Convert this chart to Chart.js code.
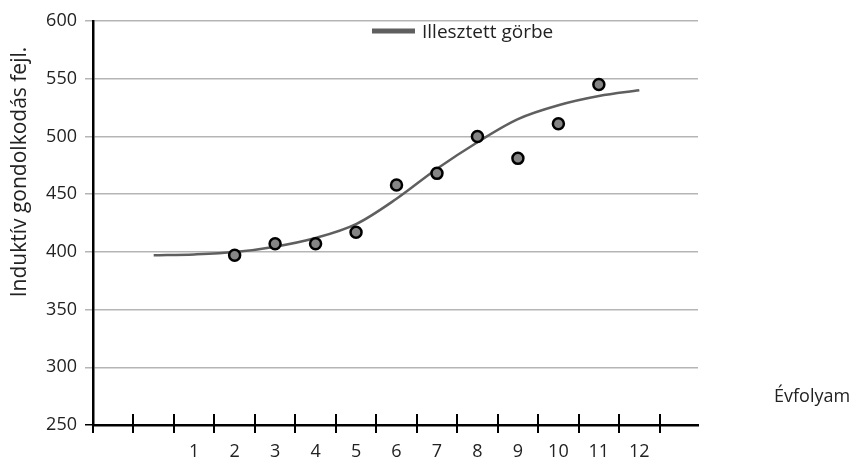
<!DOCTYPE html>
<html>
<head>
<meta charset="utf-8">
<script src="https://cdn.jsdelivr.net/npm/chart.js@4.4.1/dist/chart.umd.min.js"></script>
<style>
html, body { margin: 0; padding: 0; background: #fff; }
#wrap { width: 853px; height: 459px; }
</style>
</head>
<body>
<div id="wrap"><canvas id="growth"></canvas></div>
<script>
// fitted curve, grade 0 to 12
var curveGrades = [0, 1, 2, 3, 4, 5, 6, 7, 8, 9, 10, 11, 12];
var curveValues = [397, 397.8, 399.8, 404.5, 412, 424, 446, 472, 495, 515, 527, 535, 540];
// measured means, grade 2 to 11
var pointGrades = [2, 3, 4, 5, 6, 7, 8, 9, 10, 11];
var pointValues = [397, 407, 407, 417, 458, 468, 500, 481, 511, 545];
var gradeLabels = [1, 2, 3, 4, 5, 6, 7, 8, 9, 10, 11, 12];
var yTicks = [250, 300, 350, 400, 450, 500, 550, 600];

var curveLabel = "Illesztett görbe";
var xTitle = "Évfolyam";
var yTitle = "Induktív gondolkodás fejl.";

var font = "Open Sans";
var textColor = "#222";

function pairs(xs, ys) {
    var out = [];
    for (var i = 0; i < xs.length; i++) out.push({x: xs[i], y: ys[i]});
    return out;
}

// tick marks crossing the x axis, the two axis titles and the legend
var extras = {
    id: "extras",
    afterDraw: function(chart) {
        var ctx = chart.ctx;
        var xs = chart.scales.x;
        var area = chart.chartArea;
        var y0 = area.bottom;
        ctx.save();
        ctx.strokeStyle = "#000";
        ctx.lineWidth = 2;
        for (var v = -1.5; v <= 13; v += 1) {
            var px = Math.round(xs.getPixelForValue(v));
            ctx.beginPath();
            ctx.moveTo(px, y0 - 11);
            ctx.lineTo(px, y0 + 8);
            ctx.stroke();
        }
        ctx.fillStyle = textColor;
        ctx.textBaseline = "middle";
        ctx.textAlign = "left";
        ctx.font = "18px '" + font + "'";
        ctx.fillText(xTitle, area.right + 76, area.bottom - 28);

        // y title, rotated
        ctx.save();
        ctx.translate(20, 172);
        ctx.rotate(-Math.PI / 2);
        ctx.textAlign = "center";
        ctx.font = "21px '" + font + "'";
        ctx.fillText(yTitle, 0, 0);
        ctx.restore();

        // legend
        var lx = area.left + 279;
        var ly = area.top + 10;
        ctx.strokeStyle = "#5f5f5f";
        ctx.lineWidth = 5;
        ctx.beginPath();
        ctx.moveTo(lx, ly);
        ctx.lineTo(lx + 43, ly);
        ctx.stroke();
        ctx.font = "19px '" + font + "'";
        ctx.fillText(chart.data.datasets[0].label, lx + 50, ly + 2);
        ctx.restore();
    }
};

new Chart(document.getElementById("growth"), {
    type: "line",
    data: {
        datasets: [{
            label: curveLabel,
            data: pairs(curveGrades, curveValues),
            borderColor: "#5f5f5f",
            borderWidth: 2.5,
            pointRadius: 0,
            cubicInterpolationMode: "monotone",
            fill: false,
            order: 2
        }, {
            label: "Mért",
            data: pairs(pointGrades, pointValues),
            showLine: false,
            pointRadius: 5.5,
            pointBackgroundColor: "#858585",
            pointBorderColor: "#000",
            pointBorderWidth: 2.5,
            order: 1
        }]
    },
    options: {
        responsive: true,
        maintainAspectRatio: false,
        animation: false,
        layout: { padding: { top: 21, right: 155, left: 0, bottom: 0 } },
        plugins: {
            legend: { display: false },
            tooltip: { enabled: false }
        },
        scales: {
            x: {
                type: "linear",
                min: -1.5,
                max: 13.45,
                afterBuildTicks: function(scale) {
                    scale.ticks = gradeLabels.map(function(g) { return {value: g}; });
                },
                afterFit: function(scale) { scale.height = 34; },
                grid: { display: false },
                border: { display: true, color: "#000", width: 2.5 },
                ticks: {
                    autoSkip: false,
                    maxRotation: 0,
                    padding: 8,
                    color: textColor,
                    font: { family: font, size: 18 },
                    callback: function(v) { return String(v); }
                }
            },
            y: {
                min: 250,
                max: 600,
                afterBuildTicks: function(scale) {
                    scale.ticks = yTicks.map(function(t) { return {value: t}; });
                },
                afterFit: function(scale) { scale.width = 93; },
                grid: {
                    color: function(c) { return c.tick && c.tick.value === 250 ? "#000" : "#b5b5b5"; },
                    lineWidth: 1.5,
                    tickLength: 8
                },
                border: { display: true, color: "#000", width: 2.5 },
                ticks: {
                    padding: 8,
                    color: textColor,
                    font: { family: font, size: 18 }
                }
            }
        }
    },
    plugins: [extras]
});
</script>
</body>
</html>
